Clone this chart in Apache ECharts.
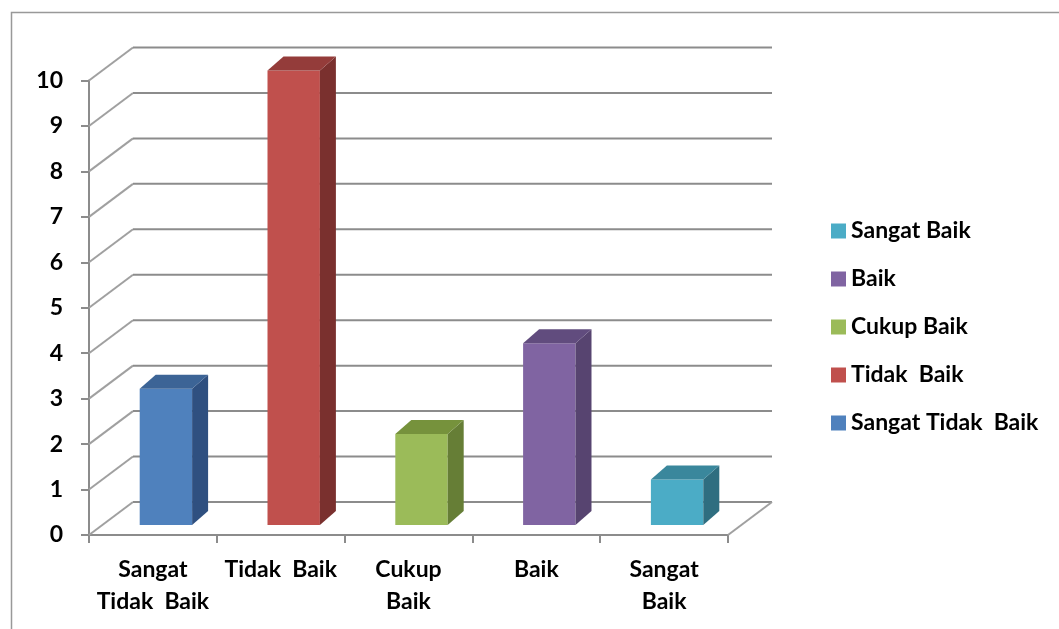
<!DOCTYPE html>
<html>
<head>
<meta charset="utf-8">
<script src="https://cdn.jsdelivr.net/npm/echarts@6/dist/echarts.min.js"></script>
<style>
html,body{margin:0;padding:0;background:#fff;}
#chart{width:1059px;height:629px;}
</style>
</head>
<body>
<div id="chart"></div>
<script>
// ---- data ----
var categories = ['Sangat\nTidak  Baik', 'Tidak  Baik', 'Cukup\nBaik', 'Baik', 'Sangat\nBaik'];
var seriesNames = ['Sangat Tidak  Baik', 'Tidak  Baik', 'Cukup Baik', 'Baik', 'Sangat Baik'];
var values = [3, 10, 2, 4, 1];
var yTicks = [0, 1, 2, 3, 4, 5, 6, 7, 8, 9, 10];

// ---- styles ----
var faceColors = [
  {front: '#4f81bd', top: '#3c6496', side: '#2f5080'},
  {front: '#c0504d', top: '#943c3a', side: '#7a302e'},
  {front: '#9bbb59', top: '#76923c', side: '#667e36'},
  {front: '#8064a2', top: '#614c7e', side: '#574470'},
  {front: '#4bacc6', top: '#3a879c', side: '#2f6e80'}
];
var WALL_DX = 44, WALL_DY = -33;   // back wall offset
var BAR_DX = 13, BAR_DY = -10;     // bar front plane offset
var DEPTH_DX = 16, DEPTH_DY = -14; // bar depth
var GRID_COLOR = '#8c8c8c';
var FONT = 'Lato';
var FW = 'bold';

var chart = echarts.init(document.getElementById('chart'));

function gridRender(params, api) {
  var v = api.value(0);
  var p = api.coord([0, v]);
  var band = api.size([1, 0])[0];
  var xl = p[0] - band / 2;
  var xr = xl + band * categories.length;
  var y = p[1];
  var children = [
    {type: 'line', shape: {x1: xl, y1: y, x2: xl + WALL_DX, y2: y + WALL_DY},
     style: {stroke: '#a0a0a0', lineWidth: 2}},
    {type: 'line', shape: {x1: xl + WALL_DX, y1: y + WALL_DY, x2: xr + WALL_DX, y2: y + WALL_DY},
     style: {stroke: GRID_COLOR, lineWidth: 2}}
  ];
  if (v === 0) {
    children.push({type: 'line', shape: {x1: xr, y1: y, x2: xr + WALL_DX, y2: y + WALL_DY},
      style: {stroke: '#a0a0a0', lineWidth: 2}});
  }
  return {type: 'group', children: children};
}

function makeBarRender(ci) {
  return function (params, api) {
    var idx = api.value(0);
    var val = api.value(1);
    var base = api.coord([idx, 0]);
    var topP = api.coord([idx, val]);
    var band = api.size([1, 0])[0];
    var w = band * 0.41;
    var x0 = base[0] + BAR_DX - w / 2;
    var x1 = x0 + w;
    var yb = base[1] + BAR_DY;
    var yt = topP[1] + BAR_DY;
    var c = faceColors[ci];
    return {type: 'group', children: [
      {type: 'rect', shape: {x: x0, y: yt, width: w, height: yb - yt}, style: {fill: c.front}},
      {type: 'polygon', shape: {points: [[x1, yt], [x1 + DEPTH_DX, yt + DEPTH_DY], [x1 + DEPTH_DX, yb + DEPTH_DY], [x1, yb]]},
       style: {fill: c.side}},
      {type: 'polygon', shape: {points: [[x0, yt], [x0 + DEPTH_DX, yt + DEPTH_DY], [x1 + DEPTH_DX, yt + DEPTH_DY], [x1, yt]]},
       style: {fill: c.top}}
    ]};
  };
}

var series = [{
  type: 'custom',
  name: '_grid',
  silent: true,
  z: 1,
  data: yTicks.map(function (t) { return [t]; }),
  encode: {y: 0},
  renderItem: gridRender
}];
values.forEach(function (v, i) {
  series.push({
    type: 'custom',
    name: seriesNames[i],
    z: 3,
    itemStyle: {color: faceColors[i].front},
    data: [[i, v]],
    encode: {x: 0, y: 1},
    renderItem: makeBarRender(i)
  });
});

chart.setOption({
  animation: false,
  backgroundColor: '#ffffff',
  textStyle: {fontFamily: FONT},
  graphic: [{
    type: 'rect', silent: true, z: -10,
    shape: {x: 11.5, y: 12.5, width: 1200, height: 800},
    style: {fill: null, stroke: '#999999', lineWidth: 1.5}
  }],
  grid: {left: 89, right: 331, top: 80.5, bottom: 94},
  legend: {
    orient: 'vertical',
    left: 826,
    top: 214,
    itemWidth: 15,
    itemHeight: 15,
    itemGap: 24,
    icon: 'rect',
    data: seriesNames.slice().reverse(),
    textStyle: {fontFamily: FONT, fontWeight: FW, fontSize: 23, color: '#000', lineHeight: 24}
  },
  xAxis: {
    type: 'category',
    data: categories,
    boundaryGap: true,
    axisLine: {show: true, lineStyle: {color: GRID_COLOR, width: 2}},
    axisTick: {show: true, length: 8, alignWithLabel: false, lineStyle: {color: GRID_COLOR, width: 2}},
    axisLabel: {fontFamily: FONT, fontWeight: FW, fontSize: 23, color: '#000', lineHeight: 32, margin: 19, interval: 0},
    splitLine: {show: false}
  },
  yAxis: {
    type: 'value',
    min: 0, max: 10, interval: 1,
    axisLine: {show: true, lineStyle: {color: GRID_COLOR, width: 2}},
    axisTick: {show: true, length: 8, lineStyle: {color: GRID_COLOR, width: 2}},
    axisLabel: {fontFamily: FONT, fontWeight: FW, fontSize: 23, color: '#000', margin: 26},
    splitLine: {show: false}
  },
  series: series
});
</script>
</body>
</html>
